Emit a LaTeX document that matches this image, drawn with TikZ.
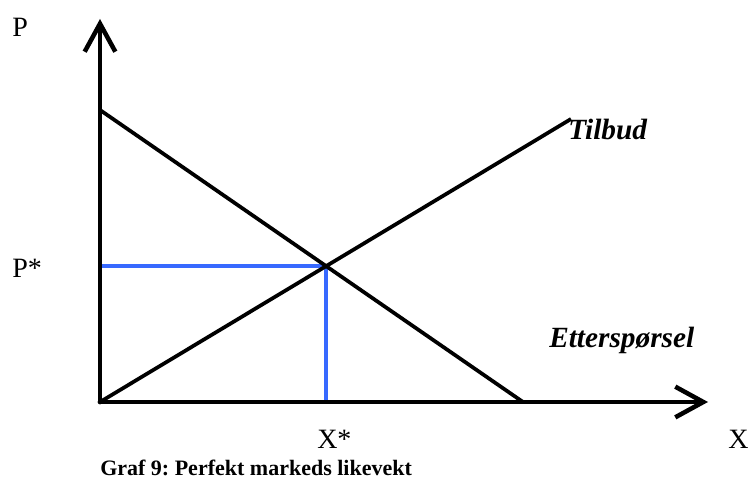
\documentclass[tikz,border=0pt]{standalone}
\usepackage{fontspec}
\setmainfont{Liberation Serif}
\usetikzlibrary{arrows.meta}
\frenchspacing
\begin{document}
\begin{tikzpicture}[x=0.75pt, y=-0.75pt,
  axis/.style={line width=3.6pt, line cap=round, -{Straight Barb[length=21pt, width=23pt, line width=3.4pt]}},
  curve/.style={line width=2.8pt},
  guide/.style={line width=2.8pt, draw=likevektblaa},
  lbl/.style={font=\fontsize{21}{24}\selectfont, inner sep=0pt, anchor=base west},
  curvelbl/.style={font=\fontsize{22}{25}\selectfont\bfseries\itshape, inner sep=0pt, anchor=base west}]
\definecolor{likevektblaa}{RGB}{55,105,255}
\useasboundingbox (0,0) rectangle (751,478);
\coordinate (O) at (100,402);
\coordinate (ytop) at (100,19);
\coordinate (xend) at (708,402);
\coordinate (dtop) at (100,110);
\coordinate (dend) at (523,402);
\coordinate (sbeg) at (100,402);
\coordinate (stop) at (571,119);
\coordinate (eq) at (326,266);
\coordinate (peq) at (100,266);
\coordinate (xeq) at (326,402);
% hjelpelinjer
\draw[guide] (peq) -- (eq) -- (xeq);
% kurver
\draw[curve] (dtop) -- (dend);
\draw[curve] (sbeg) -- (stop);
% akser
\draw[axis] (O) -- (ytop);
\draw[axis] (O) -- (xend);
\node[lbl] (plbl) at (12,37) {P};
\node[lbl] (pstar) at (12,277) {P*};
\node[lbl] (xstar) at (317,448) {X*};
\node[lbl] (xlbl) at (728,448) {X};
\node[curvelbl] (tilbud) at (568,140) {Tilbud};
\node[curvelbl] (ettersp) at (549,347) {Etterspørsel};
\node[font=\fontsize{16.5}{19}\selectfont\bfseries, inner sep=0pt, anchor=base west] (caption) at (100,475) {Graf 9: Perfekt markeds likevekt};
\end{tikzpicture}
\end{document}
